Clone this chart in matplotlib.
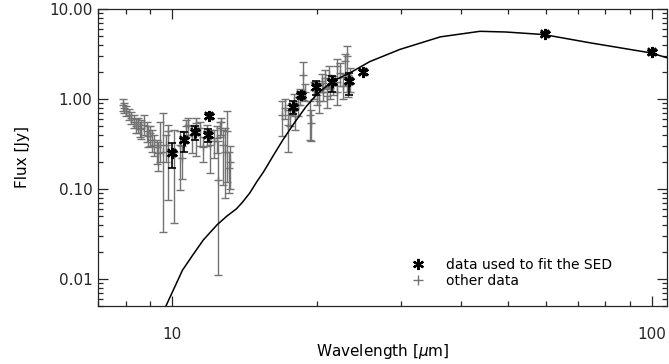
import numpy as np
import matplotlib
matplotlib.use('Agg')
import matplotlib.pyplot as plt
from matplotlib.ticker import LogLocator, NullFormatter

# SED model curve
model_wave = [9.7, 10.5, 11.0, 11.6, 12.4, 13.0, 13.6, 14.0, 14.5, 15.0, 15.5, 16.2,
              17.0, 18.0, 19.0, 20.0, 21.0, 22.0, 23.5, 25.8, 29.8, 36.2, 43.8, 49.6,
              59.5, 74.5, 99.5, 108.0]
model_flux = [0.005, 0.0125, 0.018, 0.027, 0.040, 0.050, 0.060, 0.071, 0.090, 0.120,
              0.155, 0.23, 0.35, 0.55, 0.82, 1.12, 1.40, 1.65, 1.96, 2.6, 3.55, 4.9,
              5.65, 5.55, 5.2, 4.2, 3.25, 2.85]

# data used to fit the SED
fit_wave = [10.0, 10.58, 11.14, 11.93, 11.88, 17.82, 18.56, 19.91, 21.5, 23.37, 25.0, 59.9, 100.0]
fit_flux = [0.25, 0.35, 0.425, 0.65, 0.40, 0.81, 1.12, 1.35, 1.55, 1.57, 2.0, 5.3, 3.3]
fit_lo = [0.17, 0.26, 0.353, 0.61, 0.33, 0.686, 1.0, 1.12, 1.21, 1.12, 1.90, 5.0, 3.1]
fit_hi = [0.324, 0.43, 0.505, 0.69, 0.464, 0.94, 1.21, 1.6, 1.81, 1.94, 2.1, 5.6, 3.5]

# other data
other_wave = [7.89, 7.93, 8.02, 8.11, 8.22, 8.32, 8.42, 8.49, 8.55, 8.62, 8.73, 8.84, 8.90,
              8.97, 9.05, 9.16, 9.27, 9.34, 9.42, 9.57, 9.72, 9.80, 10.1, 10.4, 10.5, 10.7,
              10.8, 10.97, 11.2, 11.4, 11.6, 11.8, 12.0, 12.2, 12.4, 12.46, 12.56, 12.66,
              12.76, 12.87, 13.0, 13.1, 13.17,
              16.9, 17.2, 17.45, 17.6, 17.9, 18.0, 18.3, 18.5, 18.75, 18.9, 19.4, 19.5,
              19.7, 20.0, 20.25, 20.5, 20.65, 20.8, 21.0, 21.2, 21.3, 21.67, 22.0, 22.1,
              22.4, 22.66, 22.9, 23.1, 23.25, 23.45]
other_flux = [0.86, 0.79, 0.73, 0.67, 0.62, 0.56, 0.50, 0.53, 0.46, 0.48, 0.52, 0.44, 0.39,
              0.42, 0.35, 0.31, 0.29, 0.25, 0.31, 0.26, 0.31, 0.44, 0.26, 0.31, 0.22, 0.50,
              0.52, 0.40, 0.54, 0.48, 0.29, 0.44, 0.31, 0.34, 0.37, 0.127, 0.48, 0.56,
              0.31, 0.26, 0.44, 0.17, 0.20,
              0.67, 0.79, 0.52, 0.67, 0.94, 0.64, 0.86, 1.07, 1.86, 1.21, 0.67, 0.54,
              1.27, 1.12, 0.94, 1.57, 1.21, 1.71, 1.07, 1.86, 1.33, 1.44, 2.30, 1.21,
              1.94, 1.38, 2.62, 2.97, 1.44, 1.71]
other_lo = [0.74, 0.70, 0.64, 0.58, 0.53, 0.47, 0.42, 0.42, 0.38, 0.36, 0.40, 0.33, 0.29,
            0.30, 0.26, 0.23, 0.19, 0.16, 0.20, 0.033, 0.20, 0.076, 0.042, 0.098, 0.13, 0.38,
            0.40, 0.25, 0.23, 0.30, 0.20, 0.30, 0.15, 0.22, 0.25, 0.011, 0.38, 0.40,
            0.112, 0.08, 0.118, 0.09, 0.10,
            0.385, 0.60, 0.26, 0.50, 0.75, 0.45, 0.65, 0.85, 0.98, 0.95, 0.35, 0.34,
            1.00, 0.85, 0.70, 1.20, 0.95, 1.30, 0.80, 1.40, 1.00, 1.10, 1.70, 0.85,
            1.40, 1.00, 1.90, 1.21, 1.05, 1.20]
other_hi = [1.00, 0.90, 0.83, 0.77, 0.72, 0.66, 0.60, 0.62, 0.56, 0.58, 0.66, 0.55, 0.50,
            0.50, 0.45, 0.40, 0.35, 0.33, 0.55, 0.70, 0.40, 0.52, 0.45, 0.44, 0.30, 0.58,
            0.62, 0.50, 0.62, 0.56, 0.38, 0.52, 0.45, 0.45, 0.50, 0.34, 0.56, 0.62,
            0.45, 0.48, 0.73, 0.26, 0.30,
            0.96, 1.00, 0.75, 0.85, 1.15, 0.80, 1.05, 1.30, 2.55, 1.45, 0.95, 0.75,
            1.55, 1.40, 1.20, 1.90, 1.50, 2.10, 1.35, 2.30, 1.65, 1.80, 2.80, 1.55,
            2.50, 1.75, 3.20, 3.84, 1.85, 2.20]

ytick_vals = [0.01, 0.1, 1.0, 10.0]
ytick_labels = ['0.01', '0.10', '1.00', '10.00']
xtick_vals = [10, 100]
xtick_labels = ['10', '100']

fig = plt.figure(figsize=(6.69, 3.64), dpi=100)
ax = fig.add_axes([98 / 669, 58 / 364, 569 / 669, 297 / 364])

ow = np.array(other_wave)
of = np.array(other_flux)
oerr = [of - np.array(other_lo), np.array(other_hi) - of]
ax.errorbar(ow, of, yerr=oerr, fmt='+', color='0.45', ecolor='0.45',
            elinewidth=1, capsize=3, capthick=1, markersize=6, mew=1, zorder=2)

fw = np.array(fit_wave)
ff = np.array(fit_flux)
ferr = [ff - np.array(fit_lo), np.array(fit_hi) - ff]
ax.errorbar(fw, ff, yerr=ferr, fmt='none', ecolor='black',
            elinewidth=1.2, capsize=3, capthick=1.2, zorder=4)
ax.plot(fw, ff, ls='none', marker=(6, 2, 0), color='black', markersize=8, mew=1.6, zorder=5)
ax.plot(fw, ff, ls='none', marker='x', color='black', markersize=6, mew=1.6, zorder=5)

ax.plot(model_wave, model_flux, color='black', lw=1.1, zorder=3)

ax.set_xscale('log')
ax.set_yscale('log')
ax.set_xlim(7.0, 107.5)
ax.set_ylim(0.005, 10)

ax.set_xticks(xtick_vals)
ax.set_xticklabels(xtick_labels)
ax.set_yticks(ytick_vals)
ax.set_yticklabels(ytick_labels)
ax.xaxis.set_minor_locator(LogLocator(base=10, subs=np.arange(2, 10)))
ax.yaxis.set_minor_locator(LogLocator(base=10, subs=np.arange(2, 10)))
ax.xaxis.set_minor_formatter(NullFormatter())
ax.yaxis.set_minor_formatter(NullFormatter())

ax.tick_params(which='both', direction='in', top=True, right=True, width=0.9, colors='0.15')
ax.tick_params(which='major', length=7)
ax.tick_params(which='minor', length=3.5)
ax.tick_params(axis='x', which='major', pad=15, labelsize=11)
ax.tick_params(axis='y', which='major', pad=4, labelsize=11)
for s in ax.spines.values():
    s.set_linewidth(0.9)
    s.set_color('0.15')

ax.set_xlabel(r'Wavelength [$\mu$m]', fontsize=11, labelpad=0)
ax.set_ylabel('Flux [Jy]', fontsize=11, labelpad=14)

# legend
h1, = ax.plot([], [], ls='none', marker=(6, 2, 0), color='black', markersize=8, mew=1.6)
h2, = ax.plot([], [], ls='none', marker='+', color='0.45', markersize=7, mew=1)
ax.legend([h1, h2], ['data used to fit the SED', 'other data'], loc='lower right',
          bbox_to_anchor=(0.925, 0.02), frameon=False, fontsize=10,
          handletextpad=1.4, labelspacing=0.1, handlelength=1.2)

fig.savefig('out.png', dpi=100)
